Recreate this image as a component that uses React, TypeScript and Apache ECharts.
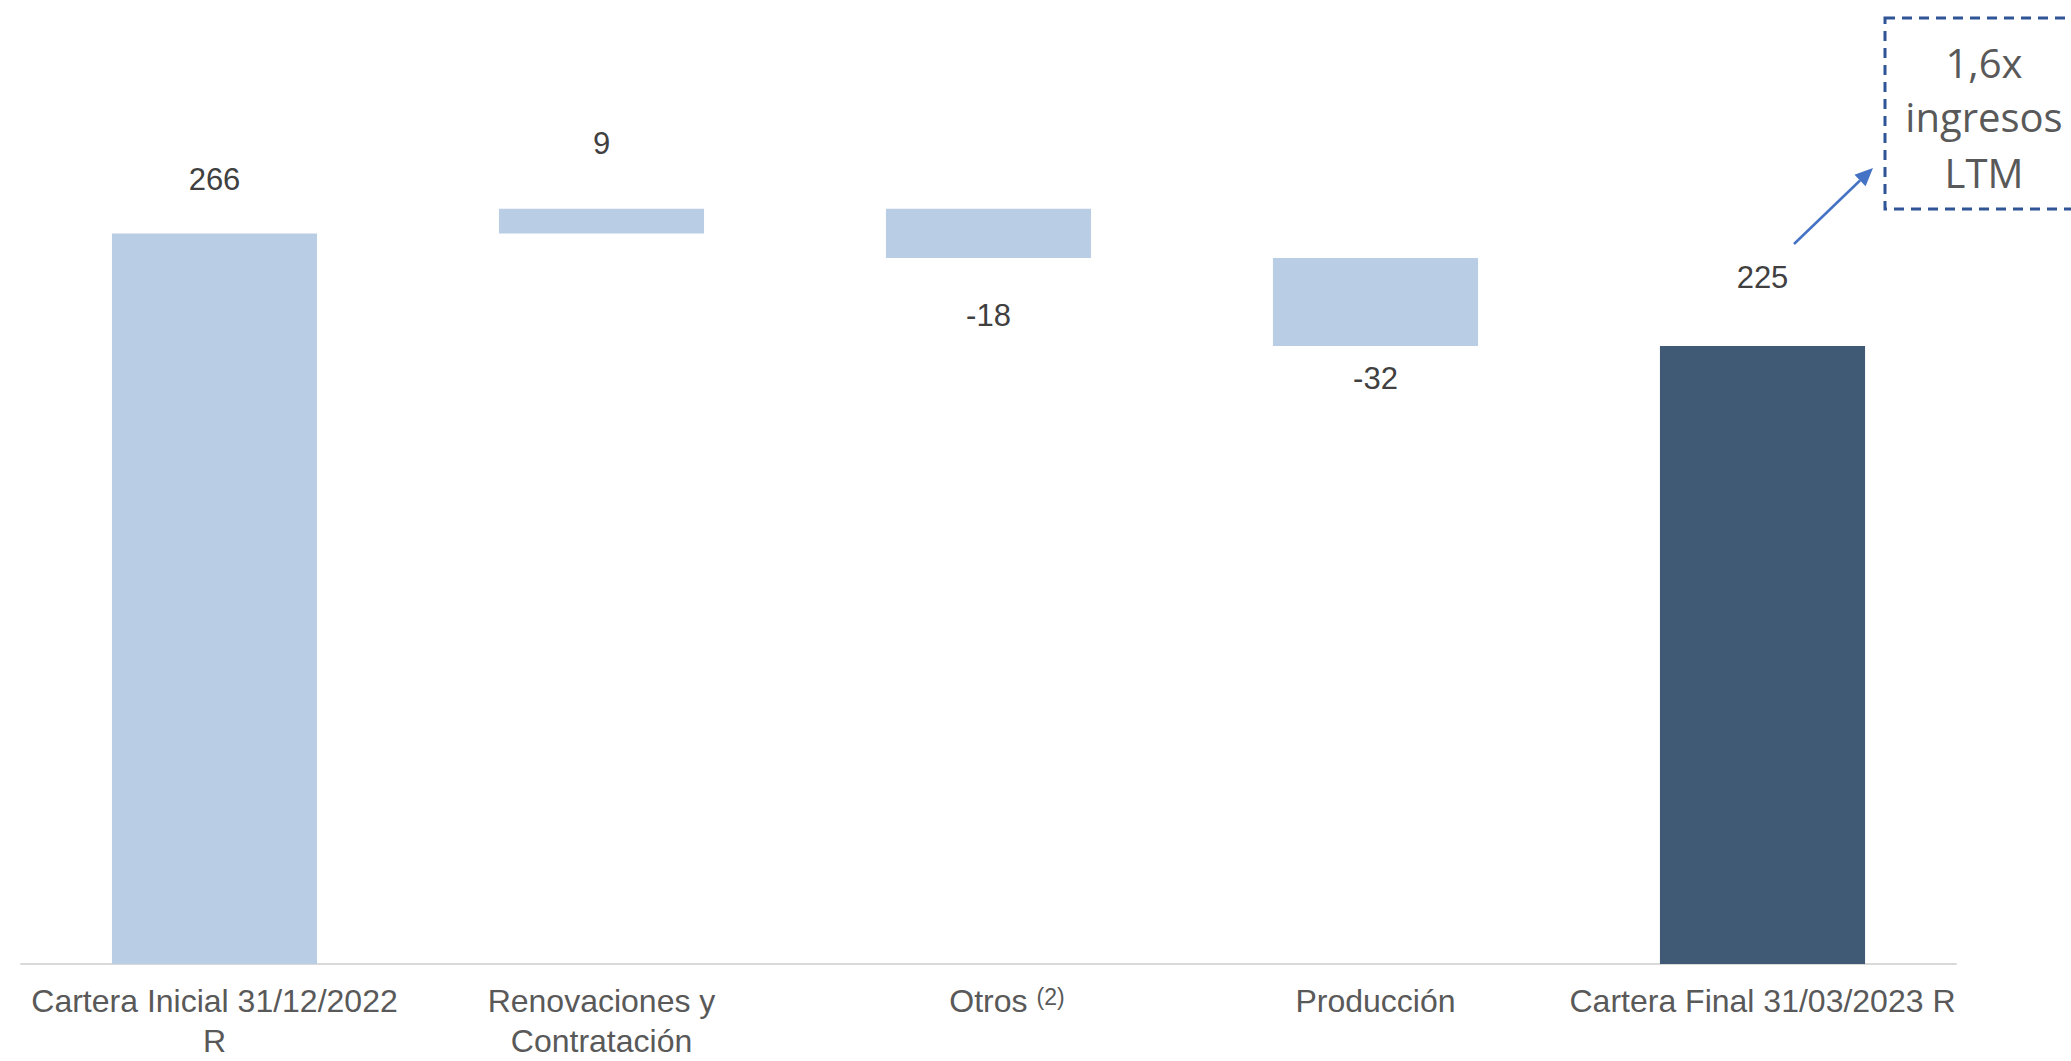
import React, { useEffect, useRef } from "react";
import * as echarts from "echarts";

const categories = [
  "Cartera Inicial 31/12/2022\nR",
  "Renovaciones y\nContratación",
  "{pad| }Otros{sup|(2)}",
  "Producción",
  "Cartera Final 31/03/2023 R",
];
const values = [266, 9, -18, -32, 225];
const isTotal = [true, false, false, false, true];
const labelDistances = [39, 50, 42, 17, 54];

export default function App() {
  const ref = useRef<HTMLDivElement>(null);
  useEffect(() => {
    if (!ref.current) return;
    const chart = echarts.init(ref.current, null, { renderer: "svg" });
    const base: number[] = [];
    const visible: number[] = [];
    let running = 0;
    values.forEach((v, i) => {
      if (isTotal[i]) {
        base.push(0);
        visible.push(v);
        running = v;
      } else {
        const next = running + v;
        base.push(Math.min(running, next));
        visible.push(Math.abs(v));
        running = next;
      }
    });
    const barData = visible.map((v, i) => ({
      value: v,
      itemStyle: { color: i === values.length - 1 ? "#405A75" : "#B9CDE5" },
      label: {
        show: true,
        position: values[i] < 0 ? "bottom" : "top",
        distance: labelDistances[i],
        formatter: String(values[i]),
        fontFamily: "Liberation Sans, Arial, sans-serif",
        fontSize: 31,
        lineHeight: 30,
        color: "#404040",
      },
    }));

    const x1 = 1794, y1 = 244, x2 = 1873, y2 = 168;
    const dx = x2 - x1, dy = y2 - y1;
    const len = Math.sqrt(dx * dx + dy * dy);
    const ux = dx / len, uy = dy / len;
    const px = -uy, py = ux;
    const ah = 18, aw = 8;
    const bx = x2 - ux * ah, by = y2 - uy * ah;

    const boxText = (text: string, y: number) => ({
      type: "text",
      x: 1984,
      y,
      style: {
        text,
        fontFamily: "Open Sans, DejaVu Sans, sans-serif",
        fontSize: 40,
        fill: "#595959",
        align: "center",
        verticalAlign: "middle",
      },
    });

    chart.setOption({
      animation: false,
      grid: { left: 21, right: 115, top: 140, bottom: 89, containLabel: false },
      xAxis: {
        type: "category",
        data: categories,
        axisTick: { show: false },
        axisLine: { lineStyle: { color: "#D9D9D9", width: 2 } },
        axisLabel: {
          interval: 0,
          margin: 17,
          fontFamily: "Liberation Sans, Arial, sans-serif",
          fontSize: 32,
          lineHeight: 40,
          color: "#595959",
          rich: {
            pad: {
              width: 37,
              fontSize: 32,
              lineHeight: 40,
            },
            sup: {
              fontFamily: "Liberation Sans, Arial, sans-serif",
              fontSize: 23,
              lineHeight: 23,
              verticalAlign: "top",
              padding: [4, 0, 0, 9],
              color: "#595959",
            },
          },
        },
      },
      yAxis: {
        type: "value",
        min: 0,
        max: 300,
        show: false,
        splitLine: { show: false },
      },
      series: [
        {
          type: "bar",
          stack: "w",
          data: base,
          itemStyle: { color: "transparent" },
          emphasis: { disabled: true },
          silent: true,
          barWidth: "53%",
        },
        {
          type: "bar",
          stack: "w",
          data: barData,
          barWidth: "53%",
        },
      ],
      graphic: [
        {
          type: "rect",
          shape: { x: 1885, y: 18, width: 220, height: 191 },
          style: {
            fill: "none",
            stroke: "#2F5597",
            lineWidth: 3,
            lineDash: [10, 7],
          },
        },
        boxText("1,6x", 62),
        boxText("ingresos", 116),
        boxText("LTM", 172),
        {
          type: "line",
          shape: { x1, y1, x2: bx, y2: by },
          style: { stroke: "#4472C4", lineWidth: 2.5 },
        },
        {
          type: "polygon",
          shape: {
            points: [
              [x2, y2],
              [bx + px * aw, by + py * aw],
              [bx - px * aw, by - py * aw],
            ],
          },
          style: { fill: "#4472C4" },
        },
      ],
    });
    return () => chart.dispose();
  }, []);
  return (
    <div
      ref={ref}
      style={{ position: "fixed", left: 0, top: 0, width: 2071, height: 1061, background: "#fff" }}
    />
  );
}
